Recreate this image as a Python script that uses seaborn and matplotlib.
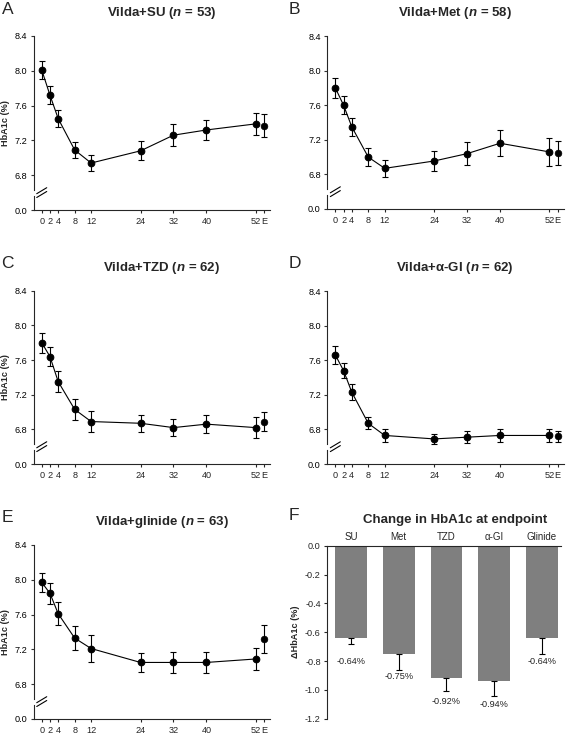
import numpy as np
import seaborn as sns
import matplotlib.pyplot as plt
from matplotlib.lines import Line2D

# HbA1c (%) mean and error per visit week; last value is the endpoint (E)
weeks = [0, 2, 4, 8, 12, 24, 32, 40, 52]
week_labels = ['0', '2', '4', '8', '12', '24', '32', '40', '52', 'E']
endpoint_x = 54

su_mean = [8.01, 7.72, 7.45, 7.09, 6.94, 7.08, 7.26, 7.32, 7.39, 7.37]
su_err = [0.10, 0.10, 0.095, 0.09, 0.095, 0.11, 0.13, 0.11, 0.13, 0.13]

met_mean = [7.80, 7.60, 7.35, 7.00, 6.87, 6.955, 7.04, 7.16, 7.06, 7.05]
met_err = [0.115, 0.105, 0.107, 0.10, 0.10, 0.12, 0.13, 0.15, 0.16, 0.14]

tzd_mean = [7.80, 7.64, 7.35, 7.03, 6.89, 6.87, 6.82, 6.86, 6.82, 6.89]
tzd_err = [0.117, 0.113, 0.12, 0.12, 0.12, 0.10, 0.10, 0.105, 0.12, 0.11]

agi_mean = [7.66, 7.48, 7.23, 6.87, 6.73, 6.69, 6.71, 6.73, 6.73, 6.72]
agi_err = [0.10, 0.09, 0.09, 0.07, 0.07, 0.055, 0.07, 0.08, 0.075, 0.065]

gli_mean = [7.97, 7.845, 7.61, 7.33, 7.21, 7.05, 7.05, 7.05, 7.09, 7.32]
gli_err = [0.11, 0.12, 0.13, 0.14, 0.15, 0.11, 0.12, 0.12, 0.125, 0.16]

# change at endpoint
groups = ['SU', 'Met', 'TZD', 'α-GI', 'Glinide']
change = [-0.64, -0.75, -0.92, -0.94, -0.64]
change_err = [0.04, 0.11, 0.085, 0.10, 0.11]

sns.set_style("ticks")
plt.rcParams['font.family'] = ['Liberation Sans', 'DejaVu Sans']
plt.rcParams['mathtext.fontset'] = 'custom'
plt.rcParams['mathtext.it'] = 'Liberation Sans:bold:italic'
plt.rcParams['mathtext.rm'] = 'Liberation Sans:bold'
plt.rcParams['axes.unicode_minus'] = False

W, H = 567, 733
fig = plt.figure(figsize=(W / 100, H / 100), dpi=100)

TICK_FS = 6.6
TITLE_FS = 9.5
LETTER_FS = 12.5
LABEL_FS = 6.6
LW = 0.8


def box(left, top, right, bottom):
    return [left / W, 1 - bottom / H, (right - left) / W, (bottom - top) / H]


def line_panel(left, right, y84, y00, mean, err, title, letter, ylabel):
    ybreak = y00 - 0.1 * (y00 - y84)
    ax = fig.add_axes(box(left, y84, right, ybreak))
    axb = fig.add_axes(box(left, ybreak, right, y00), sharex=ax)

    sns.lineplot(x=weeks, y=mean[:-1], ax=ax, color='black', linewidth=LW,
                 marker='o', markersize=4.8, markeredgecolor='black')
    sns.scatterplot(x=[endpoint_x], y=[mean[-1]], ax=ax, color='black',
                    s=23, edgecolor='black', linewidth=0.5)
    ax.errorbar(weeks + [endpoint_x], mean, yerr=err, fmt='none',
                ecolor='black', elinewidth=LW, capsize=2.0, capthick=LW)

    ax.set_xlim(-2.0, 55.5)
    ax.set_ylim(6.6, 8.4)
    ax.set_yticks([6.8, 7.2, 7.6, 8.0, 8.4])
    ax.set_yticklabels(['6.8', '7.2', '7.6', '8.0', '8.4'])
    axb.set_ylim(0, 0.2)
    axb.set_yticks([0.0])
    axb.set_yticklabels(['0.0'])
    axb.set_xticks(weeks + [endpoint_x])
    axb.set_xticklabels(week_labels)

    for a in (ax, axb):
        a.spines['right'].set_visible(False)
        a.spines['top'].set_visible(False)
        a.spines['left'].set_linewidth(LW)
        a.tick_params(axis='y', length=2, width=LW, pad=2.5, labelsize=TICK_FS,
                      colors='#333333', labelcolor='black')
        a.set_xlabel('')
        a.set_ylabel('')
    ax.spines['bottom'].set_visible(False)
    ax.tick_params(axis='x', bottom=False, labelbottom=False)
    ax.spines['left'].set_bounds(6.635, 8.4)
    axb.spines['left'].set_bounds(0, 0.165)
    axb.spines['bottom'].set_linewidth(LW)
    axb.tick_params(axis='x', length=2.5, width=LW, pad=2.2, labelsize=TICK_FS)

    # break marks on the y axis
    sx = left + 2.0 * (right - left) / 57.5
    for off in (-1.9, 1.9):
        fig.add_artist(Line2D([(sx - 5) / W, (sx + 5) / W],
                              [1 - (ybreak + off + 3) / H, 1 - (ybreak + off - 3) / H],
                              color='black', linewidth=LW))

    fig.text((left + 128) / W, 1 - (y84 - 23) / H, title, fontsize=TITLE_FS,
             fontweight='bold', ha='center', va='center')
    fig.text((left - 32 if left < 100 else left - 38) / W, 1 - (y84 - 27) / H, letter,
             fontsize=LETTER_FS, ha='left', va='center')
    if ylabel:
        fig.text(6 / W, 1 - ((y84 + y00) / 2) / H, 'HbA1c (%)', rotation=90,
                 fontsize=LABEL_FS, fontweight='bold', ha='center', va='center')


line_panel(33.5, 270.2, 36, 210, su_mean, su_err, r'Vilda+SU ($\mathit{n}$ = 53)', 'A', True)
line_panel(327.1, 563.8, 36, 209, met_mean, met_err, r'Vilda+Met ($\mathit{n}$ = 58)', 'B', False)
line_panel(33.5, 270.2, 290.7, 464, tzd_mean, tzd_err, r'Vilda+TZD ($\mathit{n}$ = 62)', 'C', True)
line_panel(327.1, 563.8, 291, 464, agi_mean, agi_err, r'Vilda+α-GI ($\mathit{n}$ = 62)', 'D', False)
line_panel(33.5, 270.2, 545, 719, gli_mean, gli_err, r'Vilda+glinide ($\mathit{n}$ = 63)', 'E', True)

# panel F: bar chart of change at endpoint
axf = fig.add_axes(box(327, 545.7, 561, 718.7))
sns.barplot(x=groups, y=change, color='#7f7f7f', saturation=1, width=0.665,
            ax=axf, linewidth=0)
axf.errorbar(range(len(groups)), change, yerr=[change_err, [0] * len(groups)],
             fmt='none', ecolor='black', elinewidth=LW, capsize=2.0, capthick=LW)
for i, v in enumerate(change):
    axf.text(i, v - 0.16, f'{v:.2f}%', ha='center', va='center', fontsize=LABEL_FS)
axf.set_xlim(-0.504, 4.405)
axf.set_ylim(-1.2, 0)
axf.set_yticks([0.0, -0.2, -0.4, -0.6, -0.8, -1.0, -1.2])
axf.set_yticklabels(['0.0', '-0.2', '-0.4', '-0.6', '-0.8', '-1.0', '-1.2'])
axf.xaxis.tick_top()
axf.spines['bottom'].set_visible(False)
axf.spines['right'].set_visible(False)
axf.spines['top'].set_linewidth(LW)
axf.spines['left'].set_linewidth(LW)
axf.tick_params(axis='x', length=0, pad=2.5, labelsize=7)
axf.tick_params(axis='y', length=2, width=LW, pad=2.5, labelsize=TICK_FS)
axf.set_xlabel('')
axf.set_ylabel('')
fig.text(296 / W, 1 - 632 / H, 'ΔHbA1c (%)', rotation=90, fontsize=LABEL_FS,
         fontweight='bold', ha='center', va='center')
fig.text(455 / W, 1 - 520 / H, 'Change in HbA1c at endpoint', fontsize=TITLE_FS,
         fontweight='bold', ha='center', va='center')
fig.text(289 / W, 1 - 516 / H, 'F', fontsize=LETTER_FS, ha='left', va='center')

fig.savefig('out.png', dpi=100)
